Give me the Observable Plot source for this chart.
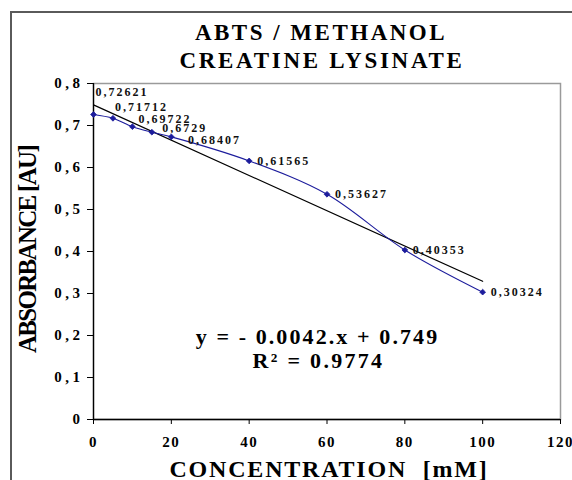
<!DOCTYPE html>
<html>
<head>
<meta charset="utf-8">
<script src="https://cdn.jsdelivr.net/npm/d3@7"></script>
<script src="https://cdn.jsdelivr.net/npm/@observablehq/plot@0.6"></script>
<style>
  html, body { margin: 0; padding: 0; background: #fff; overflow: hidden; width: 572px; height: 480px; }
  #border { position: absolute; left: 10px; top: 11px; width: 620px; height: 520px; border: 2px solid #5a5a5a; }
  #chart { position: absolute; left: 0; top: 0; }
  #chart svg text { font-family: "Liberation Serif", "Times New Roman", serif; font-weight: bold; }
  g[aria-label="y-axis tick label"] text { letter-spacing: 3.5px; }
  g[aria-label="x-axis tick label"] text { letter-spacing: 1.5px; }
</style>
</head>
<body>
<div id="border"></div>
<div id="chart"></div>
<script>
// ---- data ----
const titleLines = ["ABTS / METHANOL", "CREATINE LYSINATE"];
const xLabel = "CONCENTRATION\u00a0\u00a0[mM]";
const yLabel = "ABSORBANCE [AU]";
const concentration = [0, 5, 10, 15, 20, 40, 60, 80, 100];
const absorbance = [0.72621, 0.71712, 0.69722, 0.68407, 0.6729, 0.61565, 0.53627, 0.40353, 0.30324];
const trendSlope = -0.0042;
const trendIntercept = 0.749;
const trendRange = [0, 100];
const equationLines = ["y = - 0.0042.x + 0.749", "R\u00b2 = 0.9774"];
const xTicks = [0, 20, 40, 60, 80, 100, 120];
const yTicks = [0, 0.1, 0.2, 0.3, 0.4, 0.5, 0.6, 0.7, 0.8];

const points = concentration.map((c, i) => ({x: c, y: absorbance[i], i}));
const trend = trendRange.map(x => ({x, y: trendSlope * x + trendIntercept}));
const comma = v => String(v).replace(".", ",");
const serif = "Liberation Serif, Times New Roman, serif";
const navy = "#1c1c9c";

// label offsets (px) replicating the manual placement in the reference
const labelOffsets = [[2, -22], [2, -11], [6, -8], [36, 8], [-9, -9]];
const labelMarks = points.map((p, i) => {
  const [dx, dy] = labelOffsets[i] || [8, 0];
  return Plot.text([p], {x: "x", y: "y", text: d => comma(d.y), textAnchor: "start", dx, dy,
    fontSize: 12, fill: "#111"});
});

const plot = Plot.plot({
  width: 572,
  height: 480,
  marginLeft: 93,
  marginRight: 12,
  marginTop: 83,
  marginBottom: 61,
  style: {fontFamily: serif, fontWeight: "bold", background: "transparent", overflow: "visible"},
  x: {domain: [0, 120]},
  y: {domain: [0, 0.8]},
  marks: [
    Plot.frame({stroke: "#9a9a9a", strokeWidth: 1.5}),
    Plot.axisX({ticks: xTicks, tickFormat: d => String(d), tickSize: 5, tickPadding: 12, fontSize: 15,
      label: null, color: "#000"}),
    Plot.axisY({ticks: yTicks, tickFormat: d => comma(+d.toFixed(1)), tickSize: 6, tickPadding: 4, fontSize: 15,
      label: null, color: "#000"}),
    Plot.ruleX([0], {stroke: "#000", strokeWidth: 1.3}),
    Plot.ruleY([0], {stroke: "#000", strokeWidth: 1.3}),
    Plot.line(trend, {x: "x", y: "y", stroke: "#000", strokeWidth: 1.2}),
    Plot.line(points, {x: "x", y: "y", stroke: navy, strokeWidth: 1.1, curve: "catmull-rom"}),
    Plot.dot(points, {x: "x", y: "y", symbol: "diamond2", r: 2.6, fill: navy, stroke: navy, strokeWidth: 0.8}),
    ...labelMarks,
    Plot.text([titleLines[0]], {frameAnchor: "top", dx: -6, dy: -50.5, lineAnchor: "middle", fontSize: 23, fill: "#000"}),
    Plot.text([titleLines[1]], {frameAnchor: "top", dx: -5, dy: -23, lineAnchor: "middle", fontSize: 23, fill: "#000"}),
    Plot.text([equationLines[0]], {frameAnchor: "top-left", dx: 224, dy: 253.5, textAnchor: "middle", lineAnchor: "middle", fontSize: 22, fill: "#000"}),
    Plot.text([equationLines[1]], {frameAnchor: "top-left", dx: 225, dy: 277, textAnchor: "middle", lineAnchor: "middle", fontSize: 22, fill: "#000"}),
    Plot.text([xLabel], {frameAnchor: "bottom", dx: 2, dy: 49.5, lineAnchor: "middle", fontSize: 24, fill: "#000"}),
    Plot.text([yLabel], {frameAnchor: "left", dx: -66, dy: -2, rotate: -90, textAnchor: "middle", lineAnchor: "middle", fontSize: 25, fill: "#000"})
  ]
});

// letter spacing to match the wide, stretched rendering of the reference
const spacing = new Map([
  [titleLines[0], "2.5px"], [titleLines[1], "2.7px"],
  [equationLines[0], "2.1px"], [equationLines[1], "2.3px"],
  [xLabel, "1.8px"], [yLabel, "-1.7px"],
  ...absorbance.map(v => [comma(v), "2px"])
]);
d3.select(plot).selectAll("text").each(function () {
  const s = spacing.get(this.textContent);
  if (s) this.style.letterSpacing = s;
});
document.getElementById("chart").appendChild(plot);
</script>
</body>
</html>
